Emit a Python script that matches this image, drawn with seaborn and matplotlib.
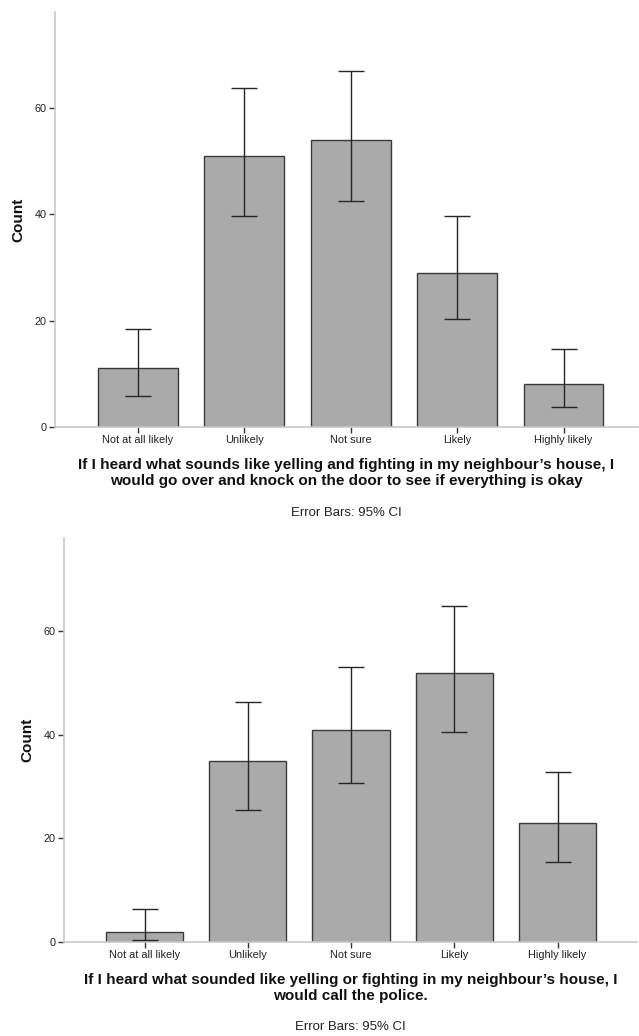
import matplotlib
matplotlib.use("Agg")
import matplotlib.pyplot as plt
import seaborn as sns
import numpy as np
import pandas as pd

categories = ["Not at all likely", "Unlikely", "Not sure", "Likely", "Highly likely"]

counts_door = [11, 51, 54, 29, 8]
ci_low_door = [5.9, 39.6, 42.4, 20.3, 3.8]
ci_high_door = [18.5, 63.7, 67.0, 39.6, 14.7]

counts_police = [2, 35, 41, 52, 23]
ci_low_police = [0.4, 25.5, 30.7, 40.6, 15.4]
ci_high_police = [6.3, 46.3, 53.0, 64.9, 32.8]

title_door = ("If I heard what sounds like yelling and fighting in my neighbour\u2019s house, I\n"
              "would go over and knock on the door to see if everything is okay")
title_police = ("If I heard what sounded like yelling or fighting in my neighbour\u2019s house, I\n"
                "would call the police.")
yticks = [0, 20, 40, 60]

sns.set_theme(style="white")
plt.rcParams["font.family"] = ["Liberation Sans", "DejaVu Sans"]

W, H = 639, 1036
fig = plt.figure(figsize=(W / 100, H / 100), dpi=100)

def px_axes(left, top, right, bottom):
    return fig.add_axes([left / W, 1 - bottom / H, (right - left) / W, (bottom - top) / H])

ax1 = px_axes(55, 12, 638, 427)
ax2 = px_axes(64, 538, 637, 942)

def draw(ax, counts, lo, hi, title, xlim, left_px, right_px, t1_px, err_px):
    df = pd.DataFrame({"cat": categories, "n": counts})
    sns.barplot(data=df, x="cat", y="n", order=categories, color="#aaaaaa",
                saturation=1, width=0.75, edgecolor="#3a3a3a", linewidth=1.0,
                errorbar=None, ax=ax)
    x = np.arange(len(categories))
    c = np.array(counts, dtype=float)
    yerr = np.vstack([c - np.array(lo), np.array(hi) - c])
    ax.errorbar(x, c, yerr=yerr, fmt="none", ecolor="#262626", elinewidth=1.0,
                capsize=9.4, capthick=1.0, zorder=5)
    ax.set_xlim(*xlim)
    ax.set_ylim(0, 78)
    ax.set_yticks(yticks)
    ax.set_yticklabels([str(t) for t in yticks], fontsize=7.8, color="#222222")
    ax.set_xticks(x)
    ax.set_xticklabels(categories, fontsize=7.9, color="#222222")
    ax.tick_params(axis="both", which="both", direction="out", length=4, width=1,
                   color="#333333", left=True, bottom=True, pad=2)
    for s in ["top", "right"]:
        ax.spines[s].set_visible(False)
    for s in ["left", "bottom"]:
        ax.spines[s].set_visible(True)
        ax.spines[s].set_color("#c8c8c8")
        ax.spines[s].set_linewidth(1.2)
    ax.set_xlabel("")
    ax.set_ylabel("Count", fontsize=11, fontweight="bold", color="#111111", labelpad=7)
    cx = 0.5 * (left_px + right_px) / W
    fig.text(cx, 1 - t1_px / H, title, ha="center", va="top", fontsize=11,
             fontweight="bold", color="#111111", linespacing=1.2)
    fig.text(cx, 1 - err_px / H, "Error Bars: 95% CI", ha="center", va="center",
             fontsize=9.5, color="#222222")

draw(ax1, counts_door, ci_low_door, ci_high_door, title_door, (-0.78, 4.70), 55, 638, 458, 513)
draw(ax2, counts_police, ci_low_police, ci_high_police, title_police, (-0.78, 4.77), 64, 637, 973, 1027)

fig.savefig("out.png", dpi=100, facecolor="white")
